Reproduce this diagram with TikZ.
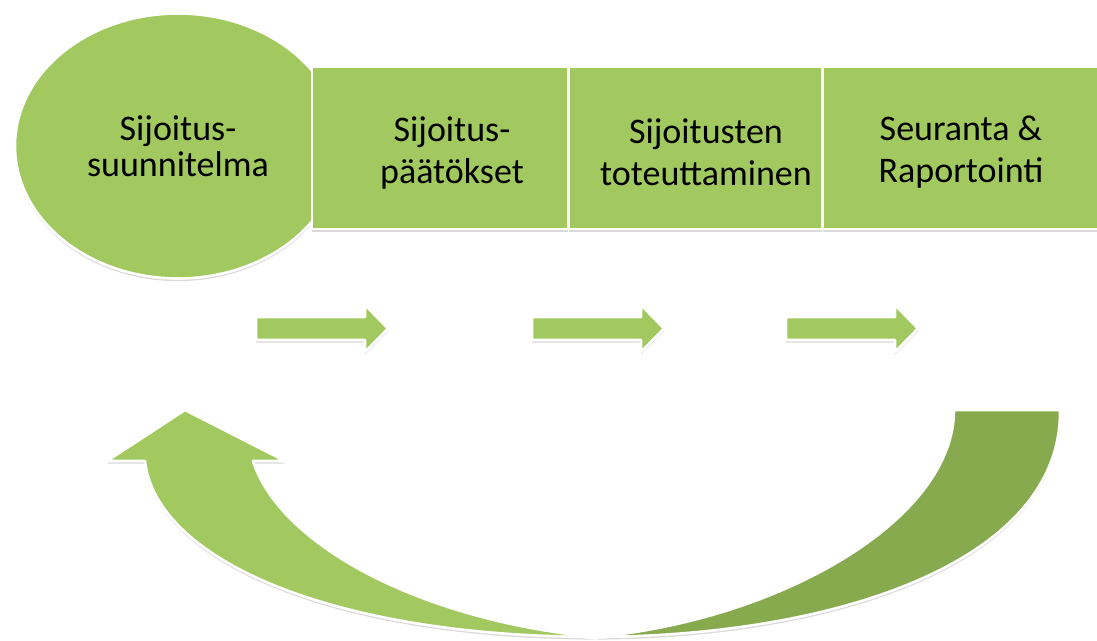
\documentclass[tikz,border=0pt]{standalone}
\usepackage{fontspec}
\setmainfont{Carlito}
\usetikzlibrary{shapes.geometric,shadows}
\definecolor{leafgreen}{RGB}{162,201,95}
\definecolor{olivegreen}{RGB}{136,170,79}
\begin{document}
\begin{tikzpicture}[x=0.5pt,y=-0.5pt,
	greenfill/.style={fill=leafgreen,draw=white,line width=1.3pt,line join=round,
		drop shadow={shadow xshift=0pt,shadow yshift=-1.3pt,opacity=0.25,fill=black!60}},
	stagebox/.style={greenfill,rectangle,minimum height=81pt,inner sep=0pt},
	stagetext/.style={align=center,font=\fontsize{18}{21}\selectfont}]
			\useasboundingbox (0,0) rectangle (1097,641);
			\node[greenfill,ellipse,minimum width=163pt,minimum height=132.5pt,inner sep=0pt,
				align=center,font=\fontsize{18}{18}\selectfont] (plan) at (178,146) {Sijoitus-\\suunnitelma};
			\node[stagebox,minimum width=128pt] (decide) at (440,148) {};
			\node[stagebox,minimum width=126.5pt] (exec) at (695.5,148) {};
			\node[stagebox,minimum width=138.5pt] (report) at (961.5,148) {};
			\node[stagetext] (decidetext) at (452,153) {Sijoitus-\\päätökset};
			\node[stagetext] (exectext) at (706,152) {Sijoitusten\\toteuttaminen};
			\node[stagetext] (reporttext) at (961,152) {Seuranta \&\\Raportointi};
			\foreach \x in {256,532,786}
				\draw[greenfill] (\x,317)--(\x+109,317)--(\x+109,305)--(\x+132,328.5)--(\x+109,352)--(\x+109,340)--(\x,340)--cycle;
			\draw[greenfill,fill=olivegreen] (954,410)--(1060,410) .. controls (1062,560) and (840,636) .. (595,637)
				.. controls (780,620) and (954,520) .. cycle;
			\draw[greenfill] (595,637) .. controls (320,636) and (155,555) .. (145,461)--(107,461)--(185,410)--(285,461)--(253,461)
				.. controls (280,545) and (420,620) .. cycle;
			\end{tikzpicture}
\end{document}
